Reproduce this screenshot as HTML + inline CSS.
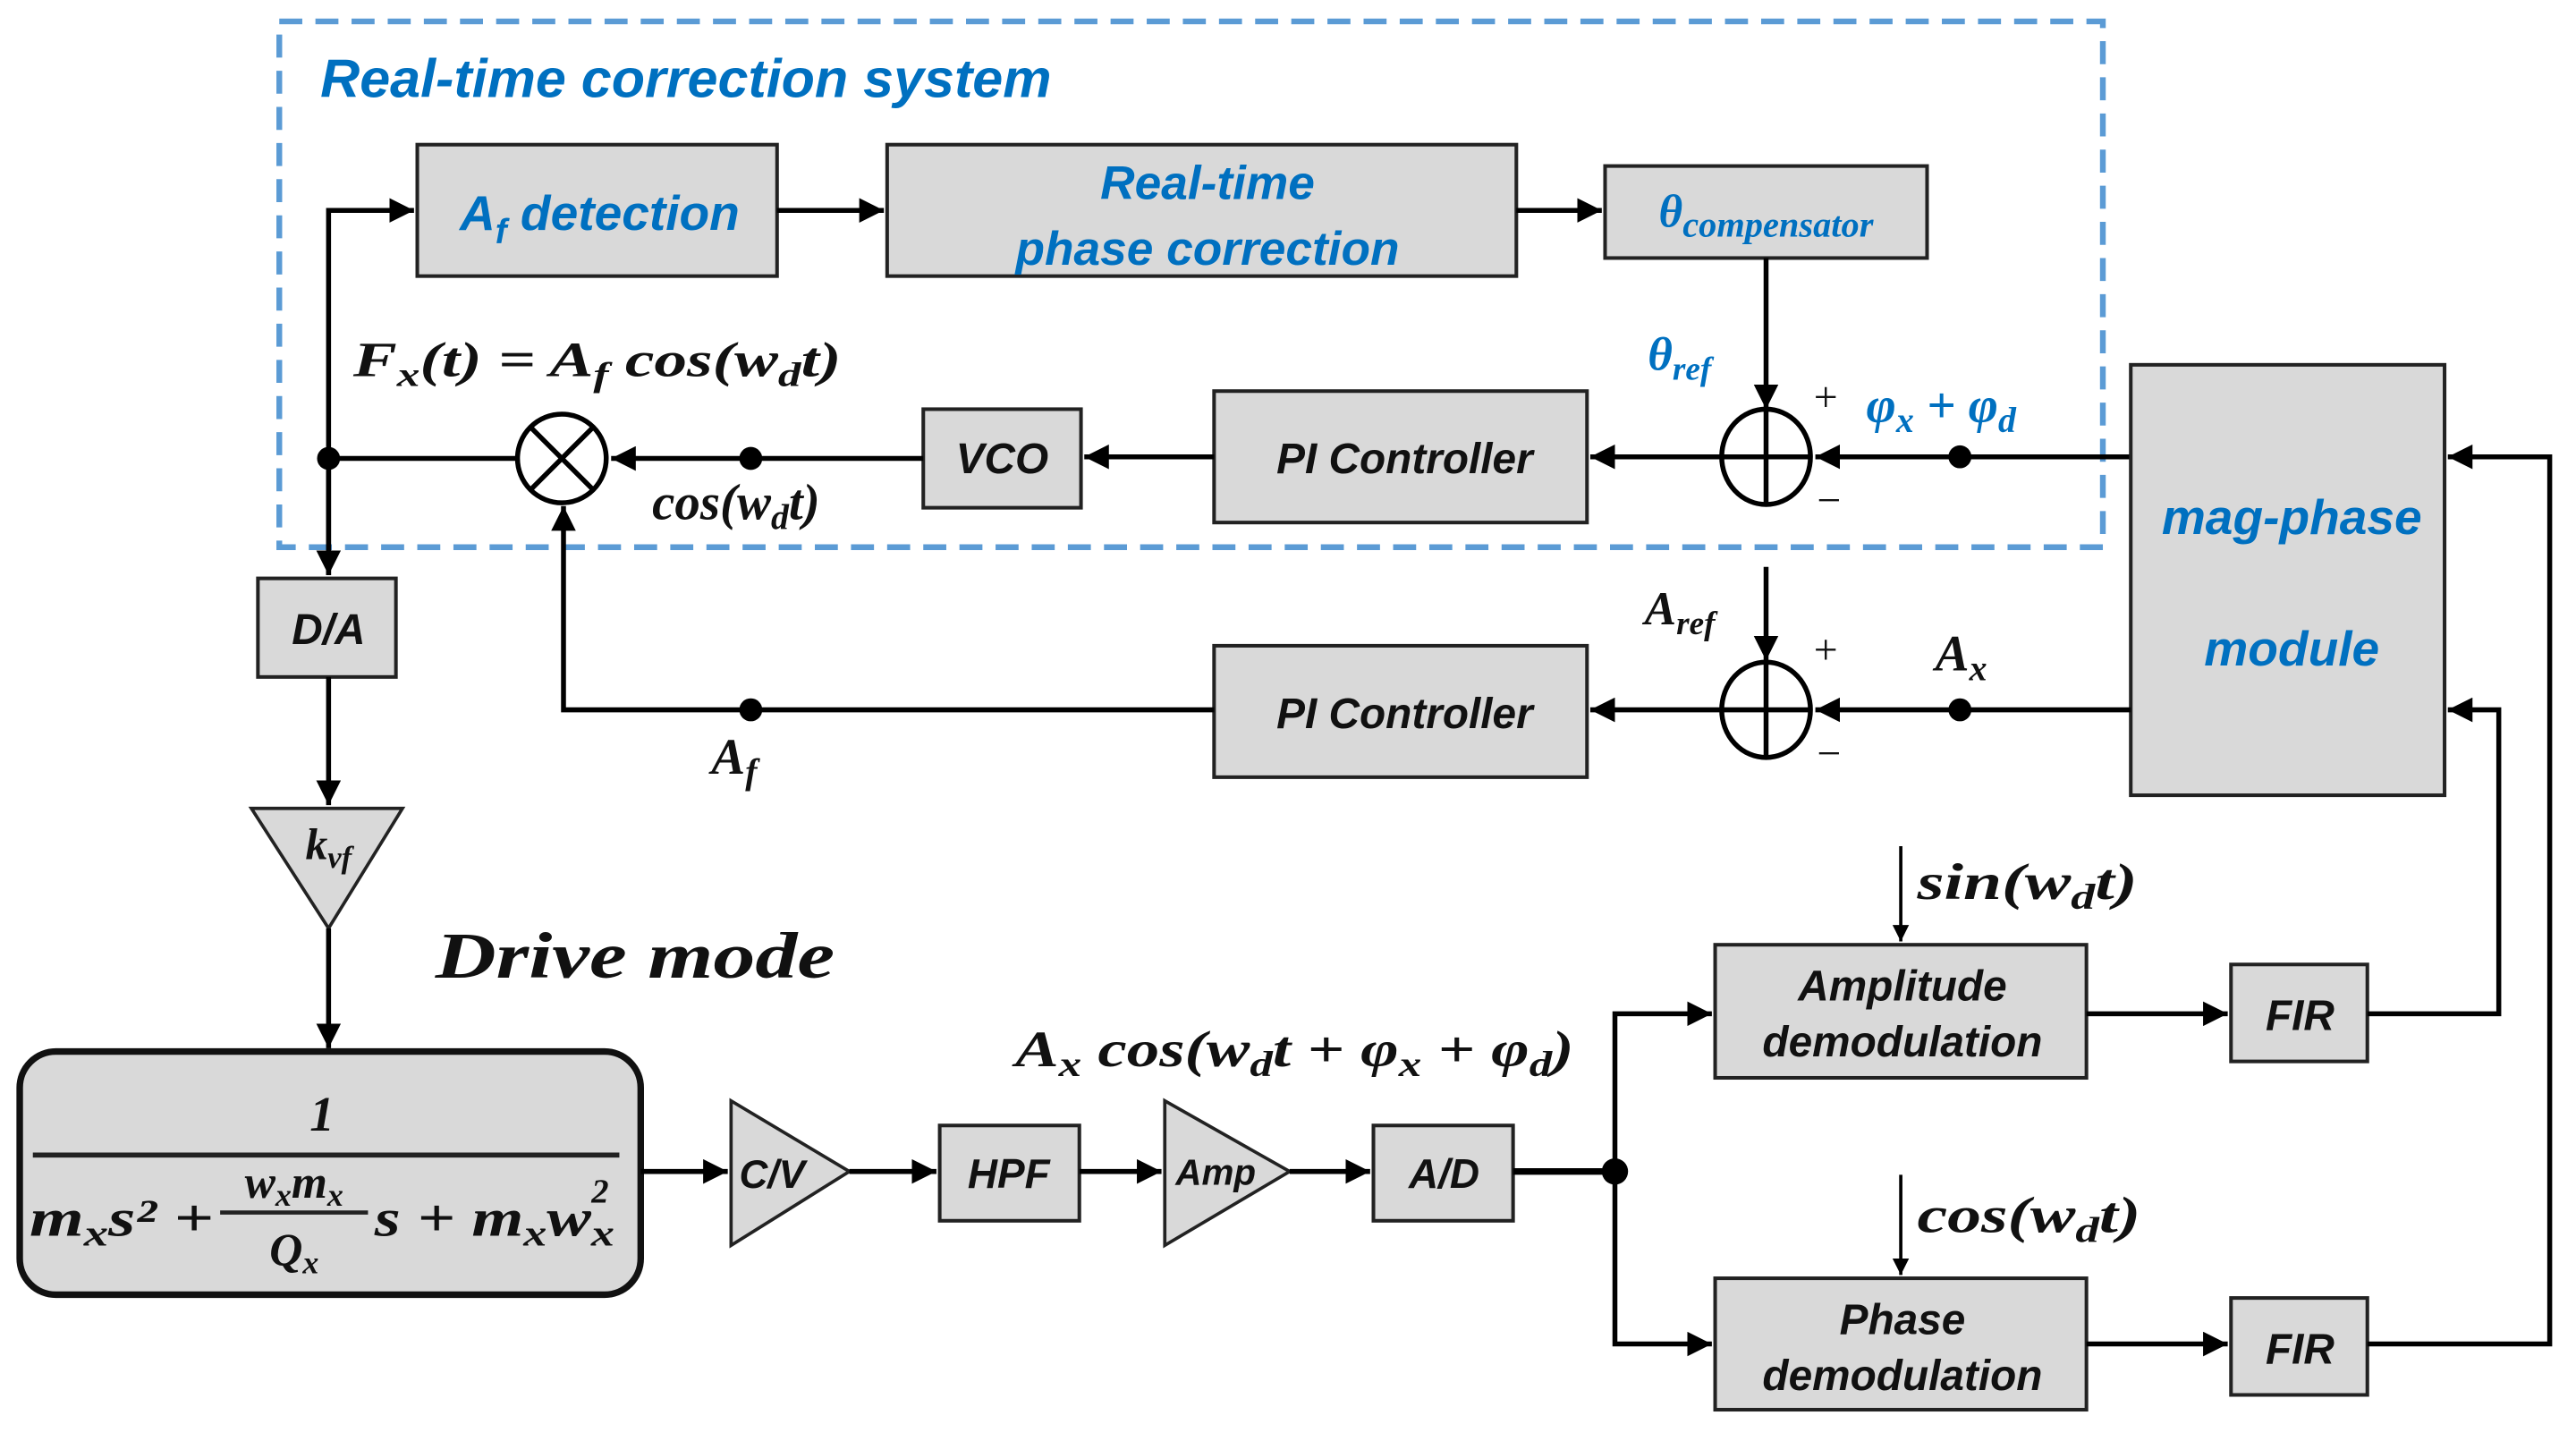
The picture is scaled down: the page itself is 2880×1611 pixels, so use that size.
<!DOCTYPE html>
<html><head><meta charset="utf-8"><style>
html,body{margin:0;padding:0;background:#fff;}
svg{display:block;}
.b{fill:#d9d9d9;stroke:#222;stroke-width:2.2;}
.l{stroke:#000;stroke-width:3;fill:none;}
.t{font-family:"Liberation Sans Narrow","Liberation Sans",sans-serif;font-style:italic;font-weight:bold;fill:#111;text-anchor:middle;}
.m{font-family:"Liberation Serif",serif;font-style:italic;font-weight:bold;fill:#111;}
text.bl{fill:#0070c0;}
.s{font-size:0.7em;}
</style></head><body>
<svg width="2880" height="1611" viewBox="0 0 1568 877" xmlns="http://www.w3.org/2000/svg">
<defs><marker id="a" markerWidth="5" markerHeight="5" refX="5" refY="2.5" orient="auto" markerUnits="strokeWidth"><path d="M0,0 L5,2.5 L0,5 z" fill="#000"/></marker></defs>
<rect x="170" y="13" width="1110" height="320" fill="none" stroke="#5b9bd5" stroke-width="3.5" stroke-dasharray="14,8"/>
<text x="195" y="59" class="t bl" textLength="445" lengthAdjust="spacingAndGlyphs" style="text-anchor:start;font-size:33px">Real-time correction system</text>

<rect class="b" x="254" y="88" width="219" height="80"/>
<text x="365" y="140" class="t bl" style="font-size:30px">A<tspan class="s" dy="8">f</tspan><tspan dy="-8"> detection</tspan></text>
<rect class="b" x="540" y="88" width="383" height="80"/>
<text x="735" y="121" class="t bl" style="font-size:29px">Real-time</text>
<text x="735" y="161" class="t bl" style="font-size:29px">phase correction</text>
<rect class="b" x="977" y="101" width="196" height="56"/>
<text x="1075" y="138" class="m bl" text-anchor="middle" style="font-size:28px">θ<tspan style="font-size:22px" dy="6">compensator</tspan></text>

<path class="l" d="M473,128 H538" marker-end="url(#a)"/>
<path class="l" d="M923,128 H975" marker-end="url(#a)"/>
<path class="l" d="M200,350 V128 H252" marker-end="url(#a)"/>
<path d="M200,280 V350" stroke="#000" stroke-width="3" marker-end="url(#a)"/>
<path class="l" d="M1075,157 V249" marker-end="url(#a)"/>
<ellipse cx="1075" cy="278" rx="27" ry="29" fill="#fff" stroke="#000" stroke-width="3"/>
<path class="l" d="M1048,278 H1102 M1075,249 V307"/>
<text x="1003" y="225" class="m bl" style="font-size:29px">θ<tspan class="s" dy="6">ref</tspan></text>
<text x="1104" y="250" class="m" style="font-size:26px;font-weight:normal;font-style:normal">+</text>
<text x="1136" y="257" class="m bl" style="font-size:31px">φ<tspan class="s" dy="6">x</tspan><tspan dy="-6"> + φ</tspan><tspan class="s" dy="6">d</tspan></text>
<text x="1106" y="313" class="m" style="font-size:26px;font-weight:normal;font-style:normal">−</text>
<path class="l" d="M1297,278 H1105" marker-end="url(#a)"/>
<circle cx="1193" cy="278" r="7"/>
<rect class="b" x="739" y="238" width="227" height="80"/>
<text x="855" y="288" class="t" style="font-size:26px">PI Controller</text>
<path class="l" d="M1047,278 H968" marker-end="url(#a)"/>
<path class="l" d="M739,278 H660" marker-end="url(#a)"/>
<rect class="b" x="562" y="249" width="96" height="60"/>
<text x="610" y="288" class="t" style="font-size:26px">VCO</text>
<path class="l" d="M562,279 H372" marker-end="url(#a)"/>
<circle cx="457" cy="279" r="7"/>
<circle cx="342" cy="279" r="27" fill="#fff" stroke="#000" stroke-width="3"/>
<path class="l" d="M323,260 L361,298 M361,260 L323,298"/>
<path class="l" d="M315,279 H200"/>
<circle cx="200" cy="279" r="7"/>
<text x="215" y="229" class="m" textLength="297" lengthAdjust="spacingAndGlyphs" style="font-size:30px">F<tspan class="s" dy="6">x</tspan><tspan dy="-6">(t) = A</tspan><tspan class="s" dy="6">f</tspan><tspan dy="-6"> cos(w</tspan><tspan class="s" dy="6">d</tspan><tspan dy="-6">t)</tspan></text>
<text x="397" y="316" class="m" style="font-size:31px">cos(w<tspan class="s" dy="6">d</tspan><tspan dy="-6">t)</tspan></text>

<rect class="b" x="1297" y="222" width="191" height="262"/>
<text x="1395" y="325" class="t bl" style="font-size:30px">mag-phase</text>
<text x="1395" y="405" class="t bl" style="font-size:30px">module</text>

<text x="1001" y="380" class="m" style="font-size:29px">A<tspan class="s" dy="6">ref</tspan></text>
<path class="l" d="M1075,345 V402" marker-end="url(#a)"/>
<ellipse cx="1075" cy="432" rx="27" ry="29" fill="#fff" stroke="#000" stroke-width="3"/>
<path class="l" d="M1048,432 H1102 M1075,403 V461"/>
<text x="1104" y="404" class="m" style="font-size:26px;font-weight:normal;font-style:normal">+</text>
<text x="1106" y="467" class="m" style="font-size:26px;font-weight:normal;font-style:normal">−</text>
<text x="1178" y="408" class="m" style="font-size:31px">A<tspan class="s" dy="6">x</tspan></text>
<path class="l" d="M1297,432 H1105" marker-end="url(#a)"/>
<circle cx="1193" cy="432" r="7"/>
<rect class="b" x="739" y="393" width="227" height="80"/>
<text x="855" y="443" class="t" style="font-size:26px">PI Controller</text>
<path class="l" d="M1047,432 H968" marker-end="url(#a)"/>
<path class="l" d="M739,432 H343 V308" marker-end="url(#a)"/>
<circle cx="457" cy="432" r="7"/>
<text x="433" y="471" class="m" style="font-size:31px">A<tspan class="s" dy="6">f</tspan></text>

<rect class="b" x="157" y="352" width="84" height="60"/>
<text x="200" y="392" class="t" style="font-size:26px">D/A</text>
<path class="l" d="M200,412 V490" marker-end="url(#a)"/>
<polygon points="153,492 245,492 200,565" fill="#d9d9d9" stroke="#222" stroke-width="2"/>
<text x="200" y="523" class="m" text-anchor="middle" style="font-size:27px">k<tspan class="s" dy="5">vf</tspan></text>
<path class="l" d="M200,565 V638" marker-end="url(#a)"/>
<text x="265" y="595" class="m" textLength="243" lengthAdjust="spacingAndGlyphs" style="font-size:40px">Drive mode</text>

<rect x="12" y="640" width="378" height="148" rx="22" fill="#d9d9d9" stroke="#111" stroke-width="4"/>
<text x="196" y="688" class="m" text-anchor="middle" style="font-size:30px">1</text>
<path d="M20,703 H377" stroke="#222" stroke-width="3"/>
<text x="18" y="752" class="m" textLength="112" lengthAdjust="spacingAndGlyphs" style="font-size:32px">m<tspan class="s" dy="6">x</tspan><tspan dy="-6">s² +</tspan></text>
<text x="179" y="729" class="m" text-anchor="middle" style="font-size:28px">w<tspan class="s" dy="5">x</tspan><tspan dy="-5">m</tspan><tspan class="s" dy="5">x</tspan></text>
<path d="M134,738 H224" stroke="#222" stroke-width="2.5"/>
<text x="179" y="770" class="m" text-anchor="middle" style="font-size:28px">Q<tspan class="s" dy="5">x</tspan></text>
<text x="228" y="752" class="m" textLength="146" lengthAdjust="spacingAndGlyphs" style="font-size:32px">s + m<tspan class="s" dy="6">x</tspan><tspan dy="-6">w</tspan><tspan class="s" dy="6">x</tspan></text>
<text x="360" y="732" class="m" style="font-size:21px">2</text>

<path class="l" d="M390,713 H443" marker-end="url(#a)"/>
<polygon points="445,670 445,758 517,713" fill="#d9d9d9" stroke="#222" stroke-width="2"/>
<text x="470" y="723" class="t" style="font-size:24px">C/V</text>
<path class="l" d="M517,713 H570" marker-end="url(#a)"/>
<rect class="b" x="572" y="685" width="85" height="58"/>
<text x="614" y="723" class="t" style="font-size:25px">HPF</text>
<path class="l" d="M657,713 H707" marker-end="url(#a)"/>
<polygon points="709,670 709,758 785,713" fill="#d9d9d9" stroke="#222" stroke-width="2"/>
<text x="740" y="721" class="t" style="font-size:22px">Amp</text>
<path class="l" d="M785,713 H834" marker-end="url(#a)"/>
<rect class="b" x="836" y="685" width="85" height="58"/>
<text x="879" y="723" class="t" style="font-size:25px">A/D</text>
<text x="618" y="649" class="m" textLength="340" lengthAdjust="spacingAndGlyphs" style="font-size:31px">A<tspan class="s" dy="6">x</tspan><tspan dy="-6"> cos(w</tspan><tspan class="s" dy="6">d</tspan><tspan dy="-6">t + φ</tspan><tspan class="s" dy="6">x</tspan><tspan dy="-6"> + φ</tspan><tspan class="s" dy="6">d</tspan><tspan dy="-6">)</tspan></text>
<path d="M921,713 H983" stroke="#000" stroke-width="4"/>
<circle cx="983" cy="713" r="8"/>
<path class="l" d="M983,713 V617 H1042" marker-end="url(#a)"/>
<path class="l" d="M983,713 V818 H1042" marker-end="url(#a)"/>

<rect class="b" x="1044" y="575" width="226" height="81"/>
<text x="1158" y="609" class="t" style="font-size:26px">Amplitude</text>
<text x="1158" y="643" class="t" style="font-size:26px">demodulation</text>
<rect class="b" x="1044" y="778" width="226" height="80"/>
<text x="1158" y="812" class="t" style="font-size:26px">Phase</text>
<text x="1158" y="846" class="t" style="font-size:26px">demodulation</text>
<path d="M1157,515 V573" stroke="#000" stroke-width="2" marker-end="url(#a)"/>
<text x="1167" y="547" class="m" textLength="134" lengthAdjust="spacingAndGlyphs" style="font-size:31px">sin(w<tspan class="s" dy="6">d</tspan><tspan dy="-6">t)</tspan></text>
<path d="M1157,715 V776" stroke="#000" stroke-width="2" marker-end="url(#a)"/>
<text x="1167" y="750" class="m" textLength="136" lengthAdjust="spacingAndGlyphs" style="font-size:31px">cos(w<tspan class="s" dy="6">d</tspan><tspan dy="-6">t)</tspan></text>

<path class="l" d="M1270,617 H1356" marker-end="url(#a)"/>
<path class="l" d="M1270,818 H1356" marker-end="url(#a)"/>
<rect class="b" x="1358" y="587" width="83" height="59"/>
<text x="1400" y="627" class="t" style="font-size:26px">FIR</text>
<rect class="b" x="1358" y="790" width="83" height="59"/>
<text x="1400" y="830" class="t" style="font-size:26px">FIR</text>
<path class="l" d="M1441,617 H1521 V432 H1490" marker-end="url(#a)"/>
<path class="l" d="M1441,818 H1552 V278 H1490" marker-end="url(#a)"/>
</svg>
</body></html>
